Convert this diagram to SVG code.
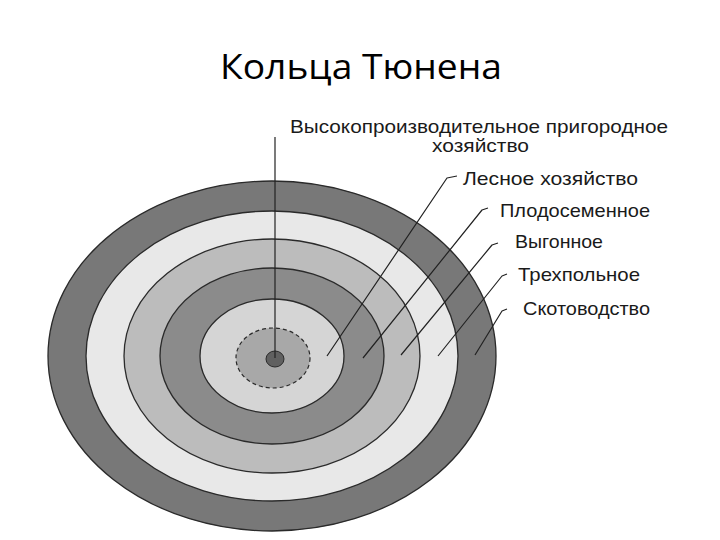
<svg xmlns="http://www.w3.org/2000/svg" width="720" height="540" viewBox="0 0 720 540">
<style>
.ring{stroke:#2a2a2a;stroke-width:1.3}
.lead{fill:none;stroke:#222;stroke-width:1.2;stroke-linejoin:round}
.lbl{font-family:"Liberation Sans",Arial,sans-serif;font-size:18.5px;fill:#1a1a1a}
.title{font-family:"Open Sans","Noto Sans",sans-serif;font-size:35px;fill:#000}
</style>
<rect width="720" height="540" fill="#fff"/>
<text class="title" x="220" y="79" textLength="282" lengthAdjust="spacingAndGlyphs">Кольца Тюнена</text>
<g id="rings">
<g id="ring-skotovodstvo"><ellipse class="ring" cx="272" cy="356" rx="224" ry="175" fill="#787878"/></g>
<g id="ring-trehpolnoe"><ellipse class="ring" cx="272" cy="356" rx="186" ry="145" fill="#e8e8e8"/></g>
<g id="ring-vygonnoe"><ellipse class="ring" cx="272" cy="356" rx="148" ry="117" fill="#bcbcbc"/></g>
<g id="ring-plodosemennoe"><ellipse class="ring" cx="272" cy="356" rx="112" ry="88" fill="#8b8b8b"/></g>
<g id="ring-lesnoe"><ellipse class="ring" cx="272" cy="356" rx="72" ry="57" fill="#d5d5d5"/></g>
<g id="ring-prigorodnoe"><ellipse cx="273" cy="358" rx="37" ry="30" fill="#a8a8a8" stroke="#2a2a2a" stroke-width="1.2" stroke-dasharray="4 3"/></g>
<g id="center"><ellipse cx="275" cy="359" rx="9" ry="8" fill="#606060" stroke="#2a2a2a" stroke-width="1"/></g>
</g>
<g id="connectors">
<line class="lead" x1="275" y1="137" x2="275" y2="358"/>
<polyline class="lead" points="327,356 447,178 457,176"/>
<polyline class="lead" points="363,358 482,210 488,208"/>
<polyline class="lead" points="401,355 492,245 498,243"/>
<polyline class="lead" points="438,356 502,276 507,274"/>
<polyline class="lead" points="475,355 502,311 507,309"/>
</g>
<g id="labels">
<text class="lbl" x="290" y="133" textLength="378" lengthAdjust="spacingAndGlyphs">Высокопроизводительное пригородное</text>
<text class="lbl" x="432" y="152" textLength="97" lengthAdjust="spacingAndGlyphs">хозяйство</text>
<text class="lbl" x="463" y="185" textLength="175" lengthAdjust="spacingAndGlyphs">Лесное хозяйство</text>
<text class="lbl" x="500" y="217" textLength="150" lengthAdjust="spacingAndGlyphs">Плодосеменное</text>
<text class="lbl" x="515" y="248" textLength="88" lengthAdjust="spacingAndGlyphs">Выгонное</text>
<text class="lbl" x="518" y="281" textLength="122" lengthAdjust="spacingAndGlyphs">Трехпольное</text>
<text class="lbl" x="523" y="315" textLength="127" lengthAdjust="spacingAndGlyphs">Скотоводство</text>
</g>
</svg>
